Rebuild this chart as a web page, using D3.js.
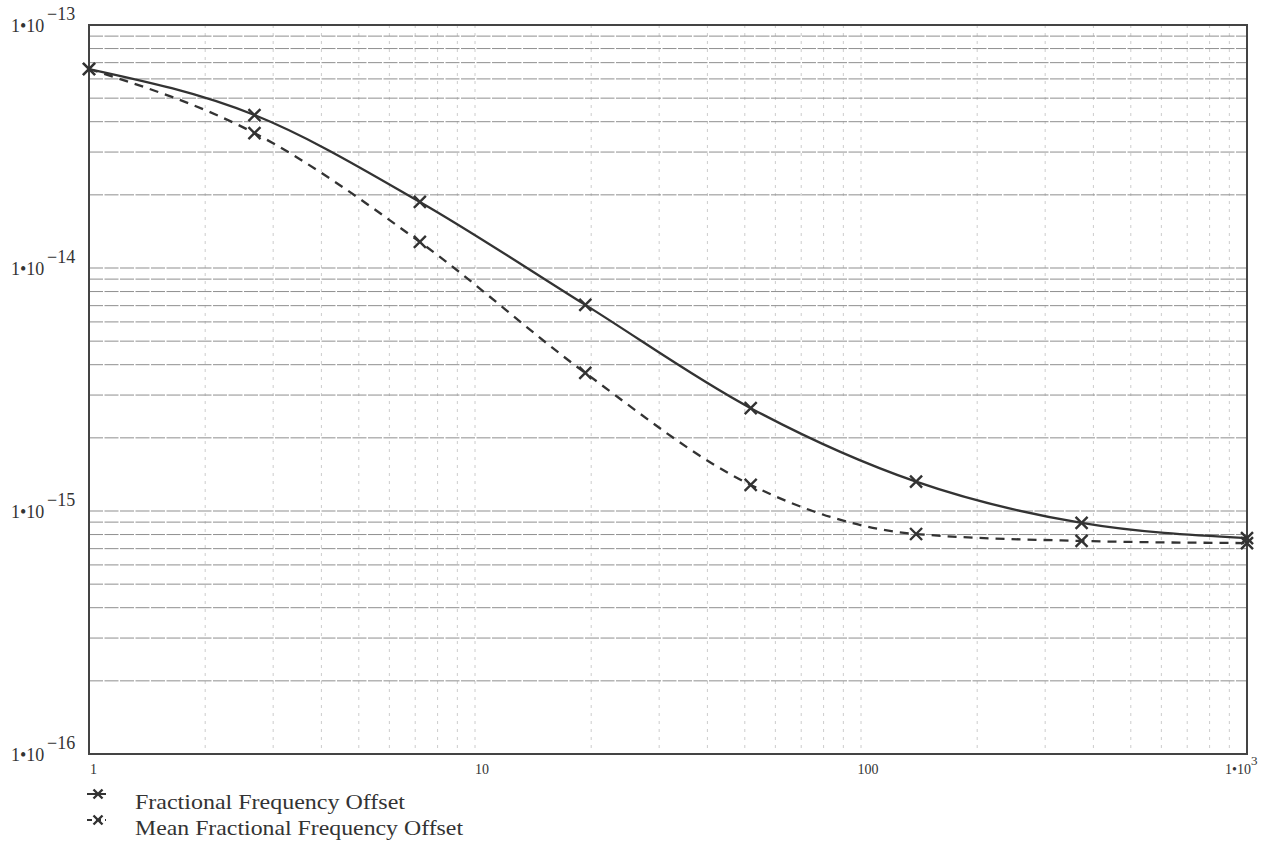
<!DOCTYPE html>
<html>
<head>
<meta charset="utf-8">
<script src="https://cdn.jsdelivr.net/npm/d3@7"></script>
<style>
  html, body { margin: 0; padding: 0; background: #fff; }
  svg { display: block; }
  text { font-family: "Liberation Serif", "Times New Roman", serif; fill: #333; }
</style>
</head>
<body>
<svg id="chart" width="1282" height="845"></svg>
<script>
// ---- data ----
const xValues = [1, 2.683, 7.197, 19.31, 51.79, 138.9, 372.8, 1000];
const fractionalOffset = [6.59e-14, 4.26e-14, 1.87e-14, 7.05e-15, 2.65e-15, 1.32e-15, 8.93e-16, 7.74e-16];
const meanFractionalOffset = [6.59e-14, 3.59e-14, 1.28e-14, 3.70e-15, 1.28e-15, 8.04e-16, 7.53e-16, 7.38e-16];
const seriesNames = ["Fractional Frequency Offset", "Mean Fractional Frequency Offset"];
const xTickValues = [1, 10, 100, 1000];
const xTickLabels = ["1", "10", "100", "1\u202210^3"];
const yTickValues = [1e-13, 1e-14, 1e-15, 1e-16];
const yTickExponents = ["\u221213", "\u221214", "\u221215", "\u221216"];

// ---- layout ----
const svg = d3.select("#chart");
const pL = 89, pR = 1247, pT = 25, pB = 754;
const ink = "#333";

const x = d3.scaleLog().domain([1, 1000]).range([pL, pR]);
const y = d3.scaleLog().domain([1e-16, 1e-13]).range([pB, pT]);

// minor/major grid values
const xGrid = [];
for (let d = 1; d < 1000; d *= 10) for (let m = 1; m <= 9; m++) { const v = d * m; if (v > 1 && v < 999) xGrid.push(v); }
const yGrid = [];
[1e-16, 1e-15, 1e-14].forEach(d => { for (let m = 1; m <= 9; m++) { const v = d * m; if (v > 1.01e-16) yGrid.push(v); } });

const g = svg.append("g");

// vertical grid (faint, dotted)
g.append("g").selectAll("line").data(xGrid).join("line")
  .attr("x1", d => x(d)).attr("x2", d => x(d))
  .attr("y1", pT).attr("y2", pB)
  .attr("stroke", "#cccccc").attr("stroke-width", 1)
  .attr("stroke-dasharray", "3,5");

// horizontal grid
g.append("g").selectAll("line").data(yGrid).join("line")
  .attr("x1", pL).attr("x2", pR)
  .attr("y1", d => y(d)).attr("y2", d => y(d))
  .attr("stroke", "#8f8f8f").attr("stroke-width", 1)
  .attr("stroke-dasharray", "14,1.5");

// frame
g.append("rect").attr("x", pL).attr("y", pT)
  .attr("width", pR - pL).attr("height", pB - pT)
  .attr("fill", "none").attr("stroke", "#444").attr("stroke-width", 2);

// y tick labels: 1•10 with superscript exponent
const yLab = g.append("g");
yTickValues.forEach((v, i) => {
  const yy = y(v);
  yLab.append("text").attr("x", 11).attr("y", yy + 7)
    .attr("font-size", 18).text("1\u202210");
  yLab.append("text").attr("x", 47).attr("y", yy - 5)
    .attr("font-size", 18).text(yTickExponents[i]);
});

// x tick labels
const xLab = g.append("g");
xTickValues.forEach((v, i) => {
  const xx = x(v);
  if (i === 0) {
    xLab.append("text").attr("x", xx + 1).attr("y", 774).attr("font-size", 14).text("1");
  } else if (i === xTickValues.length - 1) {
    const t = xLab.append("text").attr("x", xx - 22).attr("y", 774).attr("font-size", 14);
    t.append("tspan").text("1\u202210");
    t.append("tspan").attr("dy", -9).attr("font-size", 13).text("3");
  } else {
    xLab.append("text").attr("x", xx + 7).attr("y", 774).attr("font-size", 14)
      .attr("text-anchor", "middle").text(xTickLabels[i]);
  }
});

// lines
const line = d3.line().x(d => x(d[0])).y(d => y(d[1])).curve(d3.curveMonotoneX);
const seriesData = [
  { name: seriesNames[0], values: fractionalOffset, dash: null },
  { name: seriesNames[1], values: meanFractionalOffset, dash: "9,7" }
];

function cross(sel, cx, cy, r) {
  sel.append("path")
    .attr("d", `M${cx - r},${cy - r}L${cx + r},${cy + r}M${cx - r},${cy + r}L${cx + r},${cy - r}`)
    .attr("stroke", ink).attr("stroke-width", 2.4).attr("fill", "none");
}

seriesData.forEach(s => {
  const pts = xValues.map((xv, i) => [xv, s.values[i]]);
  g.append("path").datum(pts).attr("d", line)
    .attr("fill", "none").attr("stroke", ink).attr("stroke-width", 2.3)
    .attr("stroke-dasharray", s.dash);
  const mg = g.append("g");
  pts.forEach(p => cross(mg, x(p[0]), y(p[1]), 6));
});

// legend
const legendY = [794, 820];
const legendW = [270, 328];
seriesData.forEach((s, i) => {
  const ly = legendY[i];
  const lg = g.append("g");
  lg.append("line").attr("x1", 87).attr("x2", 106).attr("y1", ly).attr("y2", ly)
    .attr("stroke", ink).attr("stroke-width", 2)
    .attr("stroke-dasharray", s.dash ? "5,4" : null);
  cross(lg, 98, ly, 4.5);
  lg.append("text").attr("x", 135).attr("y", ly + 15)
    .attr("font-size", 21)
    .attr("textLength", legendW[i]).attr("lengthAdjust", "spacingAndGlyphs")
    .text(s.name);
});
</script>
</body>
</html>
